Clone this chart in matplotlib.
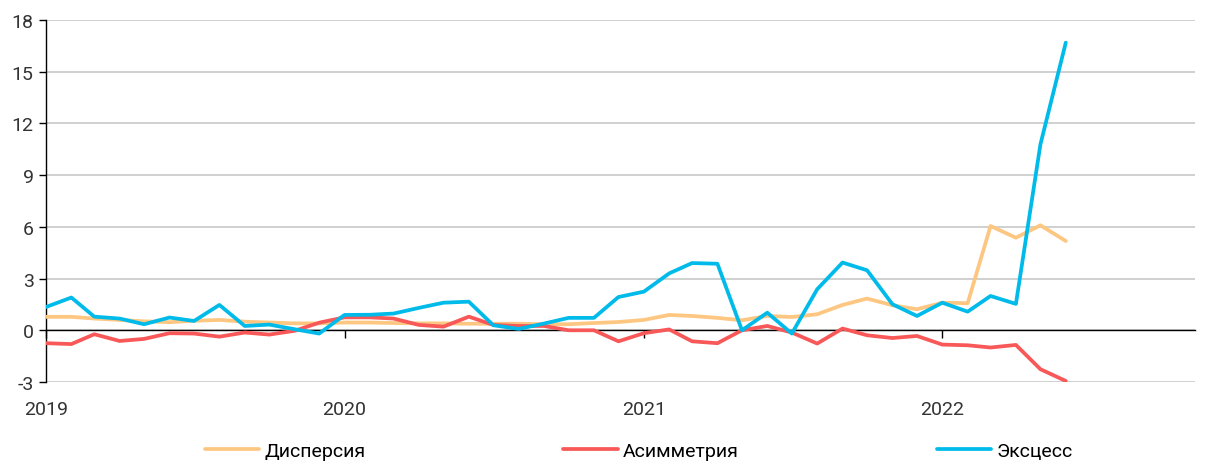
import matplotlib
matplotlib.use('Agg')
import matplotlib.pyplot as plt
import matplotlib.dates as mdates
import matplotlib.transforms as mtransforms
import pandas as pd

dates = pd.date_range('2019-01-01', periods=42, freq='MS')

dispersion = [0.78, 0.78, 0.68, 0.6, 0.52, 0.47, 0.55, 0.6, 0.5, 0.45, 0.4, 0.4,
              0.45, 0.45, 0.42, 0.4, 0.4, 0.38, 0.38, 0.38, 0.35, 0.35, 0.42, 0.48,
              0.6, 0.89, 0.83, 0.72, 0.58, 0.83, 0.77, 0.93, 1.47, 1.84, 1.45, 1.22,
              1.6, 1.57, 6.05, 5.37, 6.09, 5.18]
asymmetry = [-0.75, -0.8, -0.23, -0.62, -0.5, -0.17, -0.19, -0.37, -0.13, -0.25, -0.03, 0.44,
             0.75, 0.75, 0.68, 0.31, 0.21, 0.79, 0.31, 0.25, 0.25, 0.0, 0.0, -0.64,
             -0.17, 0.05, -0.64, -0.75, 0.0, 0.25, -0.13, -0.77, 0.1, -0.29, -0.45, -0.33,
             -0.83, -0.87, -1.0, -0.85, -2.26, -2.94]
excess = [1.35, 1.9, 0.79, 0.68, 0.35, 0.74, 0.54, 1.47, 0.25, 0.33, 0.06, -0.19,
          0.89, 0.9, 0.97, 1.3, 1.6, 1.66, 0.29, 0.08, 0.39, 0.72, 0.72, 1.93,
          2.24, 3.3, 3.9, 3.86, 0.0, 1.02, -0.19, 2.38, 3.93, 3.48, 1.51, 0.83,
          1.6, 1.08, 1.99, 1.53, 10.79, 16.69]

series_labels = ['Дисперсия', 'Асимметрия', 'Эксцесс']
series_colors = ['#FDC782', '#F85858', '#00BBEA']
yticks = [-3, 0, 3, 6, 9, 12, 15, 18]
year_ticks = pd.to_datetime(['2019-01-01', '2020-01-01', '2021-01-01', '2022-01-01'])
year_labels = ['2019', '2020', '2021', '2022']

plt.rcParams['font.family'] = ['Roboto', 'DejaVu Sans']

fig = plt.figure(figsize=(12.05, 4.64), dpi=100)
ax = fig.add_axes([0.0382, 0.1746, 0.9535, 0.7801])

handles = []
for vals, lab, col in zip([dispersion, asymmetry, excess], series_labels, series_colors):
    h, = ax.plot(dates, vals, color=col, lw=2.7, label=lab, solid_capstyle='round',
                 solid_joinstyle='round', zorder=3)
    handles.append(h)

ax.set_ylim(-3, 18)
ax.set_xlim(pd.Timestamp('2019-01-01'), pd.Timestamp('2022-11-06'))
ax.set_yticks(yticks)
ax.set_yticklabels([str(v) for v in yticks])
ax.grid(axis='y', color='#c8c8c8', lw=1.2, zorder=0)
ax.set_axisbelow(True)

for s in ['top', 'right']:
    ax.spines[s].set_visible(False)
ax.spines['bottom'].set_position(('data', 0))
ax.spines['bottom'].set_color('black')
ax.spines['bottom'].set_linewidth(1.0)
ax.spines['bottom'].set_zorder(2)
ax.spines['left'].set_color('black')
ax.spines['left'].set_linewidth(1.0)

ax.set_xticks(year_ticks)
ax.tick_params(axis='x', direction='out', length=6, width=1, color='black', labelbottom=False)
ax.tick_params(axis='y', direction='out', length=5, width=1, color='black',
               labelsize=14, labelcolor='#333333', pad=4)

trans = mtransforms.blended_transform_factory(ax.transData, ax.transAxes)
for d, lab in zip(year_ticks, year_labels):
    ax.text(d, -0.075, lab, transform=trans, ha='center', va='center',
            fontsize=14, color='#333333')

fig.legend(handles, series_labels, loc='center', bbox_to_anchor=(0.53, 0.026), ncol=3,
           frameon=False, fontsize=14, handlelength=2.8, handletextpad=0.25,
           columnspacing=10.2, borderpad=0)

fig.savefig('out.png', dpi=100)
